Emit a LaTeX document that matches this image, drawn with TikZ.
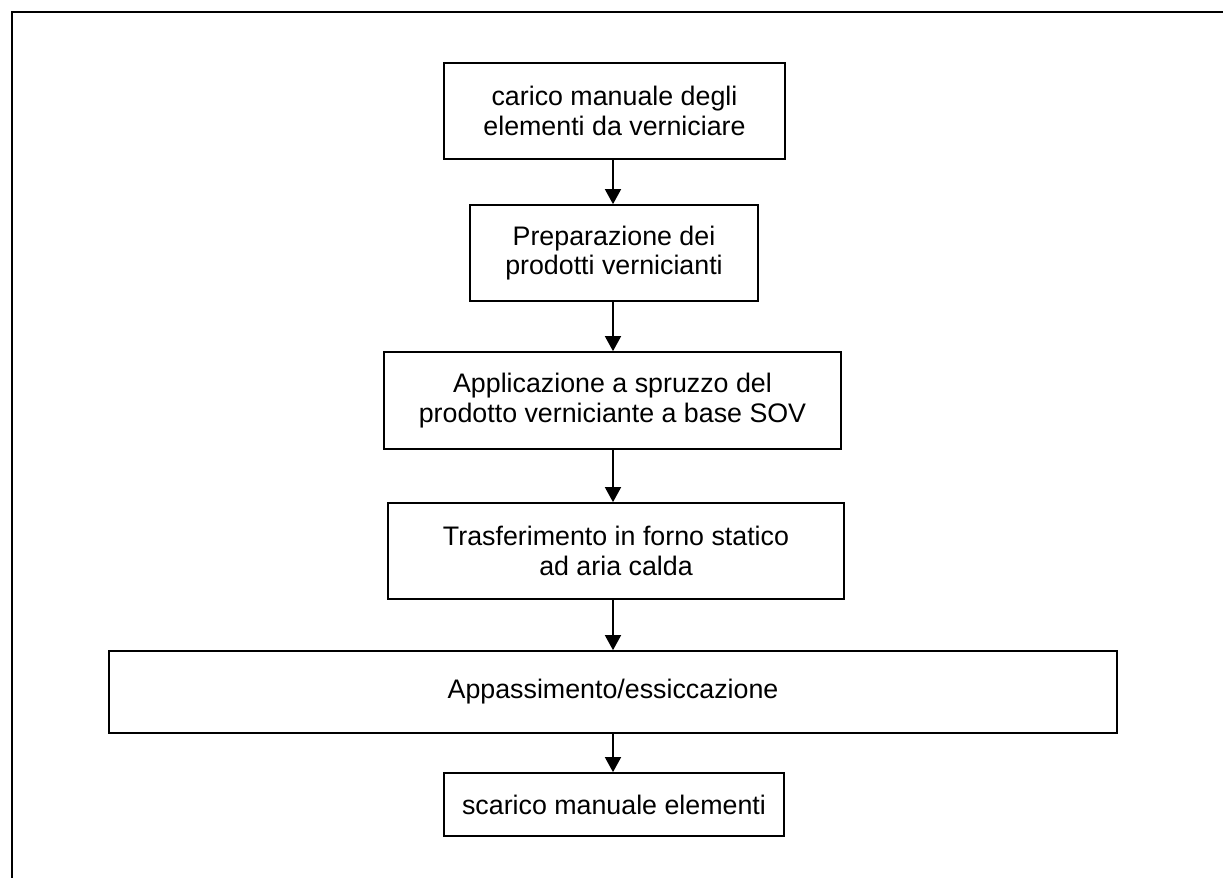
\documentclass[tikz,border=0pt]{standalone}
\usepackage{fontspec}
\setmainfont{Liberation Sans}
\usetikzlibrary{arrows.meta}
\begin{document}
\begin{tikzpicture}[x=0.5pt,y=-0.5pt,
  stepbox/.style={draw=black, line width=0.85pt, inner sep=0pt, align=center,
    font=\fontsize{13.4}{14.6}\selectfont, text=black},
  flow/.style={line width=0.8pt, -{Triangle[width=8pt,length=7.5pt]}},
  frame/.style={line width=1.3pt}]
\useasboundingbox (0,0) rectangle (1223,878);
% outer frame (only top and left edges visible)
\coordinate (fc) at (12,12);
\coordinate (fr) at (1240,12);
\coordinate (fb) at (12,900);
\draw[frame] (fb) -- (fc) -- (fr);
% boxes
\node[stepbox, minimum width=170.5pt, minimum height=48pt] (b1) at (614.5,111)
  {carico manuale degli\\elementi da verniciare};
\node[stepbox, minimum width=144pt, minimum height=48pt] (b2) at (614,253)
  {Preparazione dei\\prodotti vernicianti};
\node[stepbox, minimum width=228.5pt, minimum height=48.5pt] (b3) at (612.5,400.5)
  {Applicazione a spruzzo del\\prodotto verniciante a base SOV};
\node[stepbox, minimum width=228pt, minimum height=48pt] (b4) at (616,551)
  {Trasferimento in forno statico\\ad aria calda};
\node[stepbox, minimum width=504pt, minimum height=41pt] (b5) at (613,692)
  {Appassimento/essiccazione};
\node[stepbox, minimum width=170pt, minimum height=31.5pt] (b6) at (614,804.5)
  {scarico manuale elementi};
% connectors
\coordinate (ax) at (613,0);
\draw[flow] (b1.south -| ax) -- (b2.north -| ax);
\draw[flow] (b2.south -| ax) -- (b3.north -| ax);
\draw[flow] (b3.south -| ax) -- (b4.north -| ax);
\draw[flow] (b4.south -| ax) -- (b5.north -| ax);
\draw[flow] (b5.south -| ax) -- (b6.north -| ax);
\end{tikzpicture}
\end{document}
